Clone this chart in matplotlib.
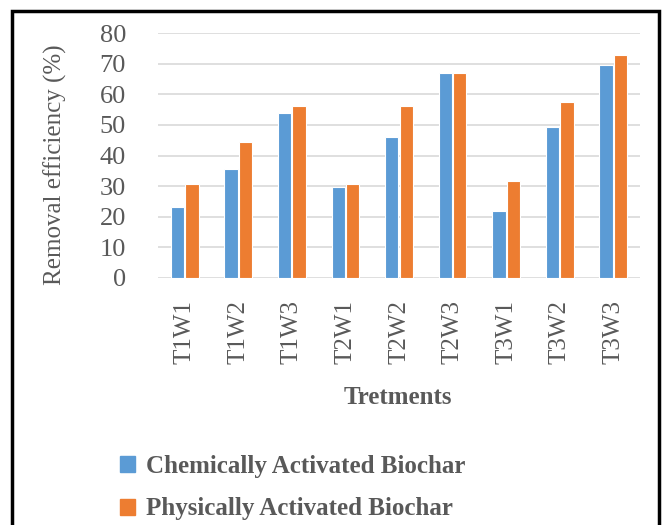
import matplotlib as mpl; mpl.use('Agg')
import matplotlib.pyplot as plt
import numpy as np
from matplotlib.patches import Rectangle, Patch

treatments = ['T1W1', 'T1W2', 'T1W3', 'T2W1', 'T2W2', 'T2W3', 'T3W1', 'T3W2', 'T3W3']
chemical = [23.3, 35.5, 53.8, 29.7, 46.1, 66.9, 21.9, 49.2, 69.6]
physical = [30.6, 44.5, 56.3, 30.6, 56.3, 66.9, 31.6, 57.4, 72.7]
series_names = ['Chemically Activated Biochar', 'Physically Activated Biochar']
yticks = [0, 10, 20, 30, 40, 50, 60, 70, 80]

BLUE, ORANGE, TXT = '#5B9BD5', '#ED7D31', '#595959'
mpl.rcParams.update({'font.family': ['Liberation Serif', 'DejaVu Serif']})

W, H = 662, 525
fig = plt.figure(figsize=(W/100, H/100), dpi=100)
ax = fig.add_axes([158/W, 1-278/H, (640-158)/W, (278-33)/H])

x = np.arange(len(treatments))
bw = 0.25
ax.bar(x-bw/2-0.01, chemical, bw, color=BLUE, edgecolor='white', lw=0.8, zorder=3)
ax.bar(x+bw/2+0.01, physical, bw, color=ORANGE, edgecolor='white', lw=0.8, zorder=3)
ax.set_xlim(-0.5, len(treatments)-0.5); ax.set_ylim(0, 80)
ax.set_yticks(yticks)
ax.set_yticklabels([str(v) for v in yticks], fontsize=19, color=TXT)
ax.set_xticks(x)
ax.set_xticklabels(treatments, rotation=90, fontsize=18, color=TXT)
ax.tick_params(length=0)
ax.tick_params(axis='y', pad=23)
ax.tick_params(axis='x', pad=16)
ax.grid(axis='y', color='#D9D9D9', lw=1.2, zorder=0)
for s in ax.spines.values(): s.set_visible(False)
ax.set_ylabel('Removal efficiency (%)', fontsize=18, color=TXT)
ax.yaxis.set_label_coords((67-158)/482, (278-165)/245)
fig.text(398/W, 1-398/H, 'Tretments', ha='center', va='center', fontsize=18,
         fontweight='bold', color=TXT)

handles = [Patch(color=BLUE), Patch(color=ORANGE)]
fig.legend(handles, series_names, loc='upper left', bbox_to_anchor=(98/W, 1-432/H),
           frameon=False, prop={'size': 18, 'weight': 'bold'}, labelcolor=TXT,
           handlelength=0.6, handleheight=0.6, handletextpad=0.4, labelspacing=0.8)

fig.patches.append(Rectangle((12/W, -0.05), (659-12)/W, 1.05-11/H, transform=fig.transFigure,
                             fill=False, ec='black', lw=2.5))
fig.savefig('out.png', dpi=100)
